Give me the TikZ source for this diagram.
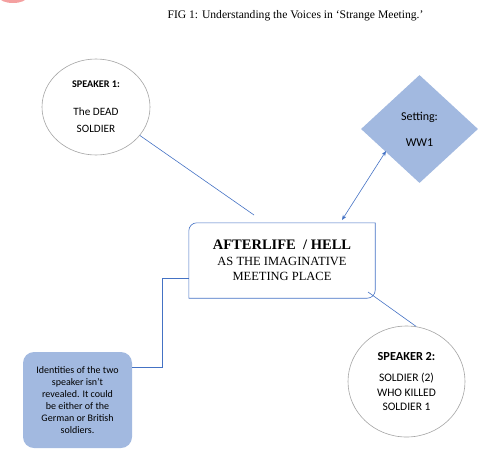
\documentclass[tikz,border=0pt]{standalone}
\usepackage{fontspec}
\setmainfont{Liberation Serif}
\newfontfamily\calib{Carlito}
\usetikzlibrary{shapes.geometric,arrows.meta,calc}
\definecolor{fillblue}{RGB}{162,185,224}
\definecolor{lineblue}{RGB}{68,114,196}
\definecolor{ringgray}{RGB}{165,165,165}
\definecolor{blobpink}{RGB}{244,160,160}
\begin{document}
\begin{tikzpicture}[x=1pt,y=1pt,
  ring/.style={ellipse,draw=ringgray,line width=0.6pt,fill=white,inner sep=0pt,align=center},
  conn/.style={draw=lineblue,line width=0.6pt}]
\useasboundingbox (0,0) rectangle (494,-461);
% corner artefact
\draw[gray!15,line width=0.5pt] (-1,7) -- (54,7) -- (54,1);
\fill[blobpink] (13,3) ellipse[x radius=14,y radius=6];
% title
\node[font=\fontsize{11.6}{13}\selectfont] (title) at (295.5,-16) {FIG 1: Understanding the Voices in ‘Strange Meeting.’};
% speaker 1
\node[ring,minimum width=108pt,minimum height=96pt,font=\calib\fontsize{11.2}{17}\selectfont] (s1) at (96,-107)
  {{\bfseries\fontsize{10.2}{12}\selectfont SPEAKER 1:}\\[11pt]The DEAD\\SOLDIER};
% setting diamond
\node[diamond,fill=fillblue,inner sep=0pt,minimum width=117pt,minimum height=108pt,align=center,font=\calib\fontsize{12}{14}\selectfont] (set) at (419.5,-129)
  {Setting:\\[12pt]WW1};
% hub
\node[minimum width=186pt,minimum height=75pt,inner sep=0pt,align=center,font=\fontsize{12.5}{15.5}\selectfont] (hub) at (282,-260.5)
  {{\bfseries\fontsize{14.5}{16}\selectfont AFTERLIFE\ \ / HELL}\\AS THE IMAGINATIVE\\MEETING PLACE};
\draw[conn] ($(hub.north west)+(8,0)$) -- (hub.north east) -- ($(hub.south east)+(0,8)$)
  arc[start angle=0,end angle=-90,radius=8] -- (hub.south west) -- ($(hub.north west)+(0,-8)$)
  arc[start angle=180,end angle=90,radius=8] -- cycle;
% speaker 2
\node[ring,minimum width=117pt,minimum height=111pt,font=\calib\fontsize{11.5}{14.5}\selectfont] (s2) at (406.5,-381.5)
  {{\bfseries\fontsize{12.3}{14}\selectfont SPEAKER 2:}\\[7pt]SOLDIER (2)\\WHO KILLED\\SOLDIER 1};
% note box
\node[fill=fillblue,rounded corners=11pt,minimum width=109pt,minimum height=96pt,inner sep=0pt,align=center,font=\calib\fontsize{10}{12}\selectfont] (note) at (77.5,-400)
  {Identities of the two\\speaker isn’t\\revealed. It could\\be either of the\\German or British\\soldiers.};
% connectors
\coordinate (e1) at (254,-215);
\coordinate (a1) at (342,-220);
\coordinate (a2) at (386,-151);
\coordinate (h2) at (368,-292);
\draw[conn] (s1.-33) -- (e1);
\draw[conn,{Stealth[length=5pt,width=4pt]}-{Stealth[length=5pt,width=4pt]}] (a1) -- (a2);
\draw[conn] (h2) -- (s2.80);
\draw[conn] ($(note.north east)+(0,-15)$) -| (162,-278) -- ($(hub.west)+(0,-17.5)$);
\end{tikzpicture}
\end{document}
